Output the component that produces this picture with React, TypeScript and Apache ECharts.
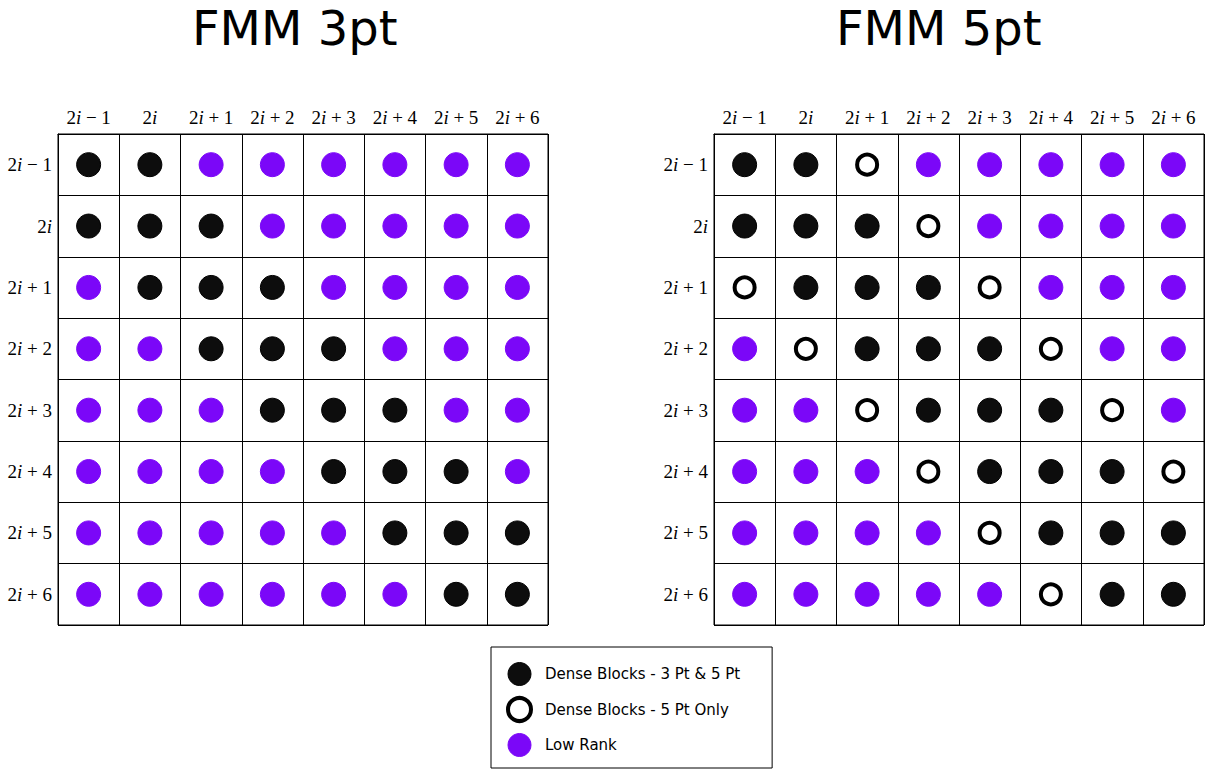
import React, { useEffect, useRef } from "react";
import * as echarts from "echarts";

const TICK_LABELS = ["2i − 1", "2i", "2i + 1", "2i + 2", "2i + 3", "2i + 4", "2i + 5", "2i + 6"];
const TITLES = ["FMM 3pt", "FMM 5pt"];
// D = dense (3pt & 5pt), H = dense 5pt only, L = low rank
const FMM3_CELLS = [
  "DDLLLLLL",
  "DDDLLLLL",
  "LDDDLLLL",
  "LLDDDLLL",
  "LLLDDDLL",
  "LLLLDDDL",
  "LLLLLDDD",
  "LLLLLLDD",
];
const FMM5_CELLS = [
  "DDHLLLLL",
  "DDDHLLLL",
  "HDDDHLLL",
  "LHDDDHLL",
  "LLHDDDHL",
  "LLLHDDDH",
  "LLLLHDDD",
  "LLLLLHDD",
];
const LEGEND_NAMES = ["Dense Blocks - 3 Pt & 5 Pt", "Dense Blocks - 5 Pt Only", "Low Rank"];
const CODES = ["D", "H", "L"];

const PURPLE = "#7b07f8";
const BLACK = "#0d0d0d";

export default function App() {
  const ref = useRef<HTMLDivElement>(null);
  useEffect(() => {
    const chart = echarts.init(ref.current!, null, { renderer: "svg" });
    const matrices = [FMM3_CELLS, FMM5_CELLS];
    const gridLefts = [58, 714];
    const titleLefts = [192, 836];

    const fmt = (v: string) => "{n|" + v.replace("i", "}{it|i}{n|") + "}";
    const rich = {
      n: { fontFamily: "Liberation Serif", fontSize: 19, color: "#000" },
      it: { fontFamily: "Liberation Serif", fontSize: 19, fontStyle: "italic", color: "#000" },
    };
    const lineStyle = { color: "#000", width: 1 };

    const grids = gridLefts.map((l) => ({
      left: l,
      top: 134,
      width: 490,
      height: 491,
      show: true,
      borderColor: "#000",
      borderWidth: 1,
      backgroundColor: "transparent",
    }));
    const xAxes = gridLefts.map((_, i) => ({
      type: "category",
      gridIndex: i,
      data: TICK_LABELS,
      position: "top",
      boundaryGap: true,
      axisLine: { show: true, lineStyle },
      axisTick: { show: false },
      splitLine: { show: true, interval: 0, lineStyle },
      axisLabel: { interval: 0, margin: 7, formatter: fmt, rich },
    }));
    const yAxes = gridLefts.map((_, i) => ({
      type: "category",
      gridIndex: i,
      data: TICK_LABELS,
      inverse: true,
      boundaryGap: true,
      axisLine: { show: true, lineStyle },
      axisTick: { show: false },
      splitLine: { show: true, interval: 0, lineStyle },
      axisLabel: { interval: 0, margin: 6, formatter: fmt, rich },
    }));

    const styleFor = (code: string) => {
      if (code === "D") return { size: 24, itemStyle: { color: BLACK, borderColor: "#000", borderWidth: 1, opacity: 1 } };
      if (code === "H") return { size: 20, itemStyle: { color: "#fff", borderColor: "#000", borderWidth: 4, opacity: 1 } };
      return { size: 24, itemStyle: { color: PURPLE, borderColor: PURPLE, borderWidth: 1, opacity: 1 } };
    };

    const series: any[] = [];
    matrices.forEach((m, gi) => {
      CODES.forEach((code, ci) => {
        const data: number[][] = [];
        m.forEach((row, r) => {
          row.split("").forEach((ch, c) => {
            if (ch === code) data.push([c, r]);
          });
        });
        const st = styleFor(code);
        series.push({
          type: "scatter",
          name: LEGEND_NAMES[ci],
          xAxisIndex: gi,
          yAxisIndex: gi,
          data,
          symbol: "circle",
          symbolSize: st.size,
          itemStyle: st.itemStyle,
          z: 5,
        });
      });
    });

    chart.setOption({
      animation: false,
      backgroundColor: "#fff",
      title: TITLES.map((t, i) => ({
        text: t,
        left: titleLefts[i],
        top: 4,
        padding: 0,
        textStyle: { fontFamily: "DejaVu Sans", fontSize: 48, lineHeight: 48, fontWeight: "normal", color: "#000" },
      })),
      grid: grids,
      xAxis: xAxes,
      yAxis: yAxes,
      legend: {
        data: [
          { name: LEGEND_NAMES[0], itemStyle: { color: BLACK, borderColor: "#000", borderWidth: 1 } },
          { name: LEGEND_NAMES[1], itemStyle: { color: "#fff", borderColor: "#000", borderWidth: 4 } },
          { name: LEGEND_NAMES[2], itemStyle: { color: PURPLE, borderColor: PURPLE, borderWidth: 1 } },
        ],
        orient: "vertical",
        left: 491,
        top: 647,
        height: 96,
        padding: [15, 32, 11, 15],
        itemWidth: 23,
        itemHeight: 23,
        itemGap: 10,
        borderColor: "#000",
        borderWidth: 1,
        selectedMode: false,
        icon: "circle",
        textStyle: { fontFamily: "DejaVu Sans", fontSize: 15, color: "#000", padding: [0, 0, 0, 9] },
      },
      series,
    });
    return () => chart.dispose();
  }, []);
  return <div ref={ref} style={{ position: "absolute", left: 0, top: 0, width: 1205, height: 770 }} />;
}
